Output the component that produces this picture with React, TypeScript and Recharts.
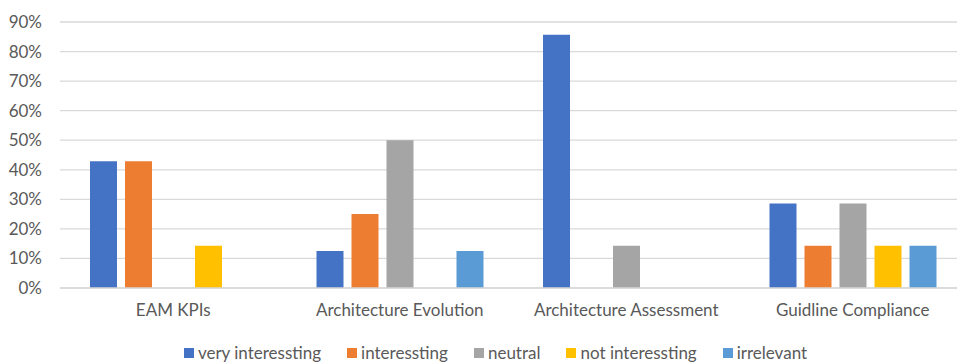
import { BarChart, Bar, XAxis, YAxis, CartesianGrid, Legend } from 'recharts'

const categories = ['EAM KPIs', 'Architecture Evolution', 'Architecture Assessment', 'Guidline Compliance']
const veryInteresting = [0.429, 0.125, 0.857, 0.286]
const interesting = [0.429, 0.25, 0, 0.143]
const neutral = [0, 0.5, 0.143, 0.286]
const notInteresting = [0.143, 0, 0, 0.143]
const irrelevant = [0, 0.125, 0, 0.143]
const yTicks = [0, 0.1, 0.2, 0.3, 0.4, 0.5, 0.6, 0.7, 0.8, 0.9]

const SERIES = [
  { key: 'veryInteresting', name: 'very interessting', color: '#4472C4', values: veryInteresting },
  { key: 'interesting', name: 'interessting', color: '#ED7D31', values: interesting },
  { key: 'neutral', name: 'neutral', color: '#A5A5A5', values: neutral },
  { key: 'notInteresting', name: 'not interessting', color: '#FFC000', values: notInteresting },
  { key: 'irrelevant', name: 'irrelevant', color: '#5B9BD5', values: irrelevant },
]

const data = categories.map((category, i) => {
  const row: Record<string, string | number> = { category }
  SERIES.forEach((s) => { row[s.key] = s.values[i] })
  return row
})

const FONT = 'Lato, "Noto Sans", sans-serif'
const TEXT = '#595959'
const GRID = '#D9D9D9'

// legend row under the x axis labels
function LegendRow() {
  return (
    <div style={{ display: 'flex', justifyContent: 'center', paddingTop: 15, height: 20, fontFamily: FONT, fontSize: 17, color: TEXT, lineHeight: '20px' }}>
      {SERIES.map((s, i) => (
        <div key={s.key} style={{ display: 'flex', alignItems: 'center', marginRight: i < SERIES.length - 1 ? 26 : 0 }}>
          <span style={{ width: 10, height: 10, background: s.color, marginRight: 4, display: 'inline-block' }} />
          <span>{s.name}</span>
        </div>
      ))}
    </div>
  )
}

export default function App() {
  return (
    <div style={{ position: 'absolute', left: 0, top: 0, width: 957, height: 363, overflow: 'hidden', background: '#fff' }}>
      <BarChart
        width={970}
        height={363}
        data={data}
        margin={{ top: 22, right: 4, left: 0, bottom: 0 }}
        barSize={27}
        barGap={8}
      >
        <CartesianGrid vertical={false} stroke={GRID} strokeWidth={1.3} />
        <XAxis
          dataKey="category"
          height={40}
          axisLine={{ stroke: GRID, strokeWidth: 1.3 }}
          tickLine={false}
          tickMargin={10}
          tick={{ fontSize: 17, fill: TEXT, fontFamily: FONT }}
          interval={0}
        />
        <YAxis
          width={60}
          domain={[0, 0.9]}
          ticks={yTicks}
          tickFormatter={(v) => `${Math.round(v * 100)}%`}
          axisLine={false}
          tickLine={false}
          tickMargin={12}
          tick={{ fontSize: 17, fill: TEXT, fontFamily: FONT }}
        />
        <Legend
          verticalAlign="bottom"
          content={() => <LegendRow />}
          wrapperStyle={{ left: 0, width: 991 }}
        />
        {SERIES.map((s) => (
          <Bar key={s.key} dataKey={s.key} name={s.name} fill={s.color} isAnimationActive={false} />
        ))}
      </BarChart>
    </div>
  )
}
